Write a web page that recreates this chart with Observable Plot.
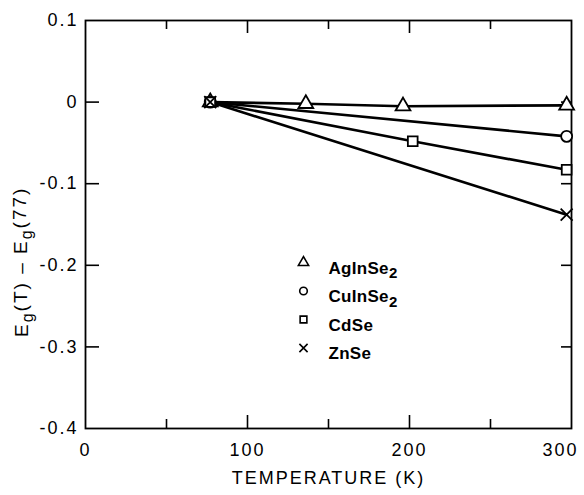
<!DOCTYPE html>
<html>
<head>
<meta charset="utf-8">
<script src="https://cdn.jsdelivr.net/npm/d3@7"></script>
<script src="https://cdn.jsdelivr.net/npm/@observablehq/plot@0.6"></script>
<style>
  html, body { margin: 0; padding: 0; background: white; }
  svg text { letter-spacing: 2px; }
  svg g.legend text { letter-spacing: 0.3px; }
</style>
</head>
<body>
<div id="chart"></div>
<script>
// Series data
const seriesNames = ["AgInSe2", "CuInSe2", "CdSe", "ZnSe"];
const symbols = ["triangle", "circle", "square", "times"];

const agT = [77, 136, 196, 297];
const agE = [0, -0.002, -0.005, -0.004];
const cuT = [77, 297];
const cuE = [0, -0.042];
const cdT = [77, 202, 297];
const cdE = [0, -0.048, -0.083];
const znT = [77, 297];
const znE = [0, -0.138];

const xTickLabels = [0, 100, 200];
const xTickLabelEnd = [300];
const xMajorInner = [100, 200];
const xMinor = [50, 150, 250];
const yTicks = [0.1, 0, -0.1, -0.2, -0.3, -0.4];
const yInner = [0, -0.1, -0.2, -0.3];

const sets = [[agT, agE], [cuT, cuE], [cdT, cdE], [znT, znE]];
const data = sets.flatMap(([T, E], i) => T.map((t, j) => ({series: seriesNames[i], T: t, E: E[j]})));

const fmtY = d => d === 0 ? "0" : d.toFixed(1);

// layout
const W = 584, H = 495, mL = 85, mR = 13, mT = 20, mB = 67;
const innerW = W - mL - mR, innerH = H - mT - mB;
const tk = {stroke: "black", strokeWidth: 1.6};

const legendMarks = seriesNames.flatMap((s, i) => [
  Plot.dot([s], {frameAnchor: "top-left", dx: 218, dy: 242 + i * 28.5, symbol: symbols[i], r: 3.8, stroke: "black", strokeWidth: 1.6, fill: "white"}),
  Plot.text([s], {frameAnchor: "top-left", dx: 243, dy: 241 + i * 28.5, text: d => d, textAnchor: "start", fontSize: 17, fontWeight: "bold", fill: "black", className: "legend"})
]);

const chart = Plot.plot({
  width: W,
  height: H,
  marginLeft: mL,
  marginRight: mR,
  marginTop: mT,
  marginBottom: mB,
  x: {domain: [0, 300]},
  y: {domain: [-0.4, 0.1]},
  symbol: {domain: seriesNames, range: symbols},
  style: {fontFamily: "'Liberation Sans', Arial, Helvetica, sans-serif", fontSize: "18px", background: "white", color: "black"},
  marks: [
    Plot.frame({stroke: "black", strokeWidth: 1.8}),
    Plot.axisX(xTickLabels, {anchor: "bottom", tickSize: 0, tickPadding: 15, tickFormat: d => String(d), fontSize: 18, label: null}),
    Plot.axisX(xTickLabelEnd, {anchor: "bottom", tickSize: 0, tickPadding: 15, tickFormat: d => String(d), fontSize: 18, label: null, dx: -11}),
    Plot.tickX(xMajorInner, {...tk, x: d => d, insetTop: innerH - 13}),
    Plot.tickX(xMinor, {...tk, x: d => d, insetTop: innerH - 9}),
    Plot.tickX(xMajorInner, {...tk, x: d => d, insetBottom: innerH - 13}),
    Plot.tickX(xMinor, {...tk, x: d => d, insetBottom: innerH - 9}),
    Plot.axisY(yTicks, {anchor: "left", tickSize: 0, tickPadding: 7, tickFormat: fmtY, fontSize: 18, label: null}),
    Plot.tickY(yInner, {...tk, y: d => d, insetRight: innerW - 14}),
    Plot.tickY(yInner, {...tk, y: d => d, insetLeft: innerW - 10}),
    Plot.text(["TEMPERATURE (K)"], {frameAnchor: "bottom", dy: 55, text: d => d, fontSize: 18, fill: "black"}),
    Plot.line(data, {x: "T", y: "E", z: "series", stroke: "black", strokeWidth: 2.6}),
    Plot.dot(data, {x: "T", y: "E", symbol: "series", r: 5.5, stroke: "black", strokeWidth: 1.8, fill: "white"}),
    ...legendMarks
  ]
});

document.getElementById("chart").appendChild(chart);

const svg = d3.select(chart);

// subscript "2" in legend formulas
svg.selectAll("g.legend text").each(function() {
  const el = d3.select(this);
  const t = el.text();
  if (/Se2$/.test(t)) {
    el.text("");
    el.append("tspan").text(t.slice(0, -1));
    el.append("tspan").attr("dy", "0.3em").attr("font-size", 15).text("2");
  }
});

// Y-axis label with subscripts
const lab = svg.append("text")
  .attr("transform", "translate(28,337) rotate(-90)")
  .attr("text-anchor", "start")
  .attr("font-family", "'Liberation Sans', Arial, Helvetica, sans-serif")
  .attr("font-size", 19)
  .attr("fill", "black")
  .style("white-space", "pre");
const parts = [["E", 0], ["g", 1], ["(T) – E", 0], ["g", 1], ["(77)", 0]];
let prevSub = 0;
parts.forEach(([t, sub]) => {
  const ts = lab.append("tspan").text(t);
  if (sub !== prevSub) ts.attr("dy", sub ? "0.3em" : "-0.3em");
  if (sub) ts.attr("font-size", 16);
  prevSub = sub;
});
</script>
</body>
</html>
